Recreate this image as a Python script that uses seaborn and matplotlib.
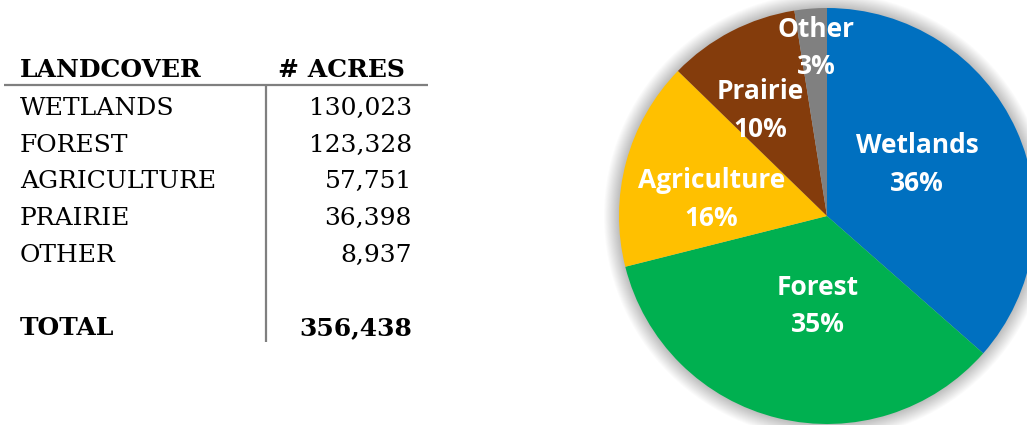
import matplotlib
matplotlib.use("Agg")
import matplotlib.pyplot as plt
import numpy as np
import seaborn as sns
from matplotlib.patches import Circle

# Land cover acreage
categories = ["Wetlands", "Forest", "Agriculture", "Prairie", "Other"]
table_labels = ["WETLANDS", "FOREST", "AGRICULTURE", "PRAIRIE", "OTHER"]
acres = [130023, 123328, 57751, 36398, 8937]
total_acres = 356438
colors = ["#0070C0", "#00B050", "#FFC000", "#843C0C", "#808080"]

# radial position of each slice label (fraction of radius)
label_radius = [0.50, 0.435, 0.56, 0.60, 0.81]
# angular nudge of each label (degrees, counter-clockwise)
label_nudge = [5.4, 7.9, 7.0, 5.0, -0.8]

sns.set_theme(style="white")
plt.rcParams["font.family"] = ["DejaVu Sans"]

W, H = 1027, 425
fig = plt.figure(figsize=(W / 100, H / 100), dpi=100)
fig.patch.set_facecolor("white")

# ---------- table ----------
tab = fig.add_axes([0, 0, 1, 1])
tab.set_xlim(0, W)
tab.set_ylim(H, 0)
tab.axis("off")

serif = "DejaVu Serif"
fs = 18.0
tab.text(20, 77, "LANDCOVER", fontfamily=serif, fontweight="bold",
         fontsize=fs, ha="left", va="baseline", color="black")
tab.text(405, 77, "# ACRES", fontfamily=serif, fontweight="bold",
         fontsize=fs, ha="right", va="baseline", color="black")
tab.plot([4, 428], [84.5, 84.5], color="#7f7f7f", lw=1.6, solid_capstyle="butt")
tab.plot([266, 266], [84.5, 342], color="#7f7f7f", lw=1.6, solid_capstyle="butt")

row_base = [115, 152, 188, 225, 262]
for lab, val, yb in zip(table_labels, acres, row_base):
    tab.text(20, yb, lab, fontfamily=serif, fontsize=fs, ha="left",
             va="baseline", color="black")
    tab.text(412, yb, f"{val:,}", fontfamily=serif, fontsize=fs, ha="right",
             va="baseline", color="black")
tab.text(20, 335, "TOTAL", fontfamily=serif, fontweight="bold", fontsize=fs,
         ha="left", va="baseline", color="black")
tab.text(412, 335, f"{total_acres:,}", fontfamily=serif, fontweight="bold",
         fontsize=fs, ha="right", va="baseline", color="black")

# ---------- pie ----------
cx, cy, R = 827, 216, 208
pax = fig.add_axes([(cx - R) / W, (H - cy - R) / H, 2 * R / W, 2 * R / H])

wedges, _ = pax.pie(acres, colors=colors, startangle=90, counterclock=False,
                    radius=1.0, wedgeprops=dict(linewidth=0),
                    normalize=True)
pax.set_xlim(-1, 1)
pax.set_ylim(-1, 1)
pax.set_aspect("equal")
pax.axis("off")
for w in wedges:
    w.set_clip_on(False)
    w.set_zorder(2)

# soft shadow halo
for i in range(16):
    r = 1.0 + (i + 1) * 0.0045
    pax.add_patch(Circle((0, 0.0), r, color="#000000", alpha=0.014,
                         lw=0, zorder=0, clip_on=False))

total = sum(acres)
for w, name, val, rf, nd in zip(wedges, categories, acres, label_radius, label_nudge):
    ang = np.deg2rad((w.theta1 + w.theta2) / 2 + nd)
    x, y = rf * np.cos(ang), rf * np.sin(ang)
    pct = f"{val / total * 100:.0f}%"
    pax.text(x, y, f"{name}\n{pct}", ha="center", va="center",
             fontfamily="Open Sans", fontweight="bold", fontsize=19,
             color="white", linespacing=1.5, zorder=5, clip_on=False)

fig.savefig("out.png", dpi=100, facecolor="white")
